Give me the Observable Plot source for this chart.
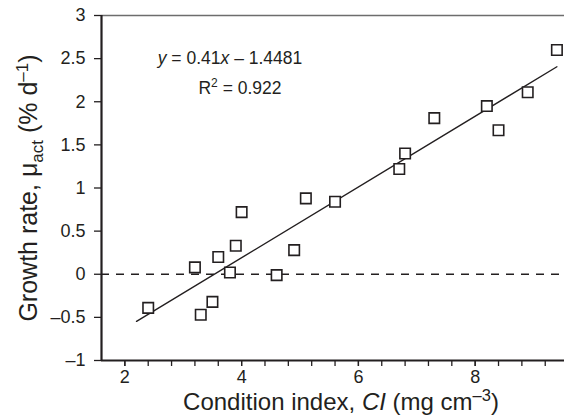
<!DOCTYPE html>
<html>
<head>
<meta charset="utf-8">
<script src="https://cdn.jsdelivr.net/npm/d3@7"></script>
<script src="https://cdn.jsdelivr.net/npm/@observablehq/plot@0.6"></script>
<style>
  html, body { margin: 0; padding: 0; background: #fff; }
  #chart svg { display: block; overflow: visible; }
</style>
</head>
<body>
<div id="chart"></div>
<script>
// Condition index (x) and actual growth rate (y) for each sample
const conditionIndex = [2.4, 3.2, 3.3, 3.5, 3.6, 3.8, 3.9, 4.0, 4.6, 4.9, 5.1, 5.6, 6.7, 6.8, 7.3, 8.2, 8.4, 8.9, 9.4];
const growthRate     = [-0.39, 0.08, -0.47, -0.32, 0.20, 0.02, 0.33, 0.72, -0.01, 0.28, 0.88, 0.84, 1.22, 1.40, 1.81, 1.95, 1.67, 2.11, 2.60];

// Regression shown in chart: y = 0.41x - 1.4481, drawn between these x values
const fitSlope = 0.41;
const fitIntercept = -1.4481;
const fitRangeX = [2.2, 9.4];

// Ticks
const xTickLabels = [2, 4, 6, 8];
const yTicks = [-1, -0.5, 0, 0.5, 1, 1.5, 2, 2.5, 3];

const points = conditionIndex.map((x, i) => ({x, y: growthRate[i]}));
const fitLine = fitRangeX.map(x => ({x, y: fitSlope * x + fitIntercept}));
const minorTicks = d3.range(0, 20).map(i => 1.6 + 0.4 * i).filter(v => v > 1.7 && v < 9.5);

const fmt = d => d < 0 ? "\u2013" + Math.abs(d) : String(d);
const ink = "#231f20";

const chart = Plot.plot({
  width: 564,
  height: 416,
  marginLeft: 101,
  marginRight: 0,
  marginTop: 15,
  marginBottom: 56,
  style: {fontFamily: "'Liberation Sans', Arial, Helvetica, sans-serif", fontSize: "18px", color: ink, background: "#fff"},
  x: {domain: [1.6, 9.53]},
  y: {domain: [-1, 3]},
  marks: [
    // dashed zero line
    Plot.ruleY([0], {stroke: ink, strokeWidth: 1.3, strokeDasharray: "8,7"}),
    // regression line
    Plot.line(fitLine, {x: "x", y: "y", stroke: ink, strokeWidth: 1.4}),
    // data points
    Plot.dot(points, {x: "x", y: "y", symbol: "square", r: 5.9, fill: "white", stroke: ink, strokeWidth: 1.6}),
    // top frame line
    Plot.ruleY([3], {stroke: "#6d6d6d", strokeWidth: 1.5}),
    // y axis
    Plot.axisY(yTicks, {tickFormat: fmt, tickSize: 7, tickPadding: 9, stroke: ink, strokeWidth: 1.3, fontSize: 18, fill: ink, label: null}),
    // x axis minor ticks
    Plot.axisX(minorTicks, {tickFormat: () => "", tickSize: 6, stroke: ink, strokeWidth: 1.3, label: null}),
    // x axis labels
    Plot.axisX(xTickLabels, {tickFormat: fmt, tickSize: 6, tickPadding: 4, stroke: ink, strokeWidth: 1.3, fontSize: 18, fill: ink, label: null}),
    // axis lines
    Plot.ruleX([1.6], {stroke: ink, strokeWidth: 2.2}),
    Plot.ruleY([-1], {stroke: ink, strokeWidth: 2.2})
  ]
});

document.getElementById("chart").appendChild(chart);

const svg = d3.select(chart);
const font = "'Liberation Sans', Arial, Helvetica, sans-serif";

// Equation text
const eq = svg.append("text")
  .attr("x", 230).attr("y", 64)
  .attr("text-anchor", "middle")
  .attr("font-family", font).attr("font-size", 17.5).attr("fill", ink);
eq.append("tspan").attr("font-style", "italic").text("y");
eq.append("tspan").text(" = 0.41");
eq.append("tspan").attr("font-style", "italic").text("x");
eq.append("tspan").text(" \u2013 1.4481");

const r2 = svg.append("text")
  .attr("x", 240).attr("y", 94)
  .attr("text-anchor", "middle")
  .attr("font-family", font).attr("font-size", 17.5).attr("fill", ink);
r2.append("tspan").text("R");
r2.append("tspan").attr("font-size", 12).attr("dy", -7).text("2");
r2.append("tspan").attr("dy", 7).text(" = 0.922");

// X axis title
const xt = svg.append("text")
  .attr("x", 341).attr("y", 410)
  .attr("text-anchor", "middle")
  .attr("font-family", font).attr("font-size", 24).attr("fill", ink);
xt.append("tspan").text("Condition index, ");
xt.append("tspan").attr("font-style", "italic").text("CI");
xt.append("tspan").text(" (mg cm");
xt.append("tspan").attr("font-size", 16.5).attr("dy", -9).text("\u20133");
xt.append("tspan").attr("dy", 9).text(")");

// Y axis title
const yt = svg.append("text")
  .attr("transform", "translate(37,188) rotate(-90)")
  .attr("text-anchor", "middle")
  .attr("font-family", font).attr("font-size", 25).attr("fill", ink);
yt.append("tspan").text("Growth rate, \u03bc");
yt.append("tspan").attr("font-size", 17).attr("dy", 6).text("act");
yt.append("tspan").attr("dy", -6).text(" (% d");
yt.append("tspan").attr("font-size", 17).attr("dy", -9).text("\u20131");
yt.append("tspan").attr("dy", 9).text(")");
</script>
</body>
</html>
